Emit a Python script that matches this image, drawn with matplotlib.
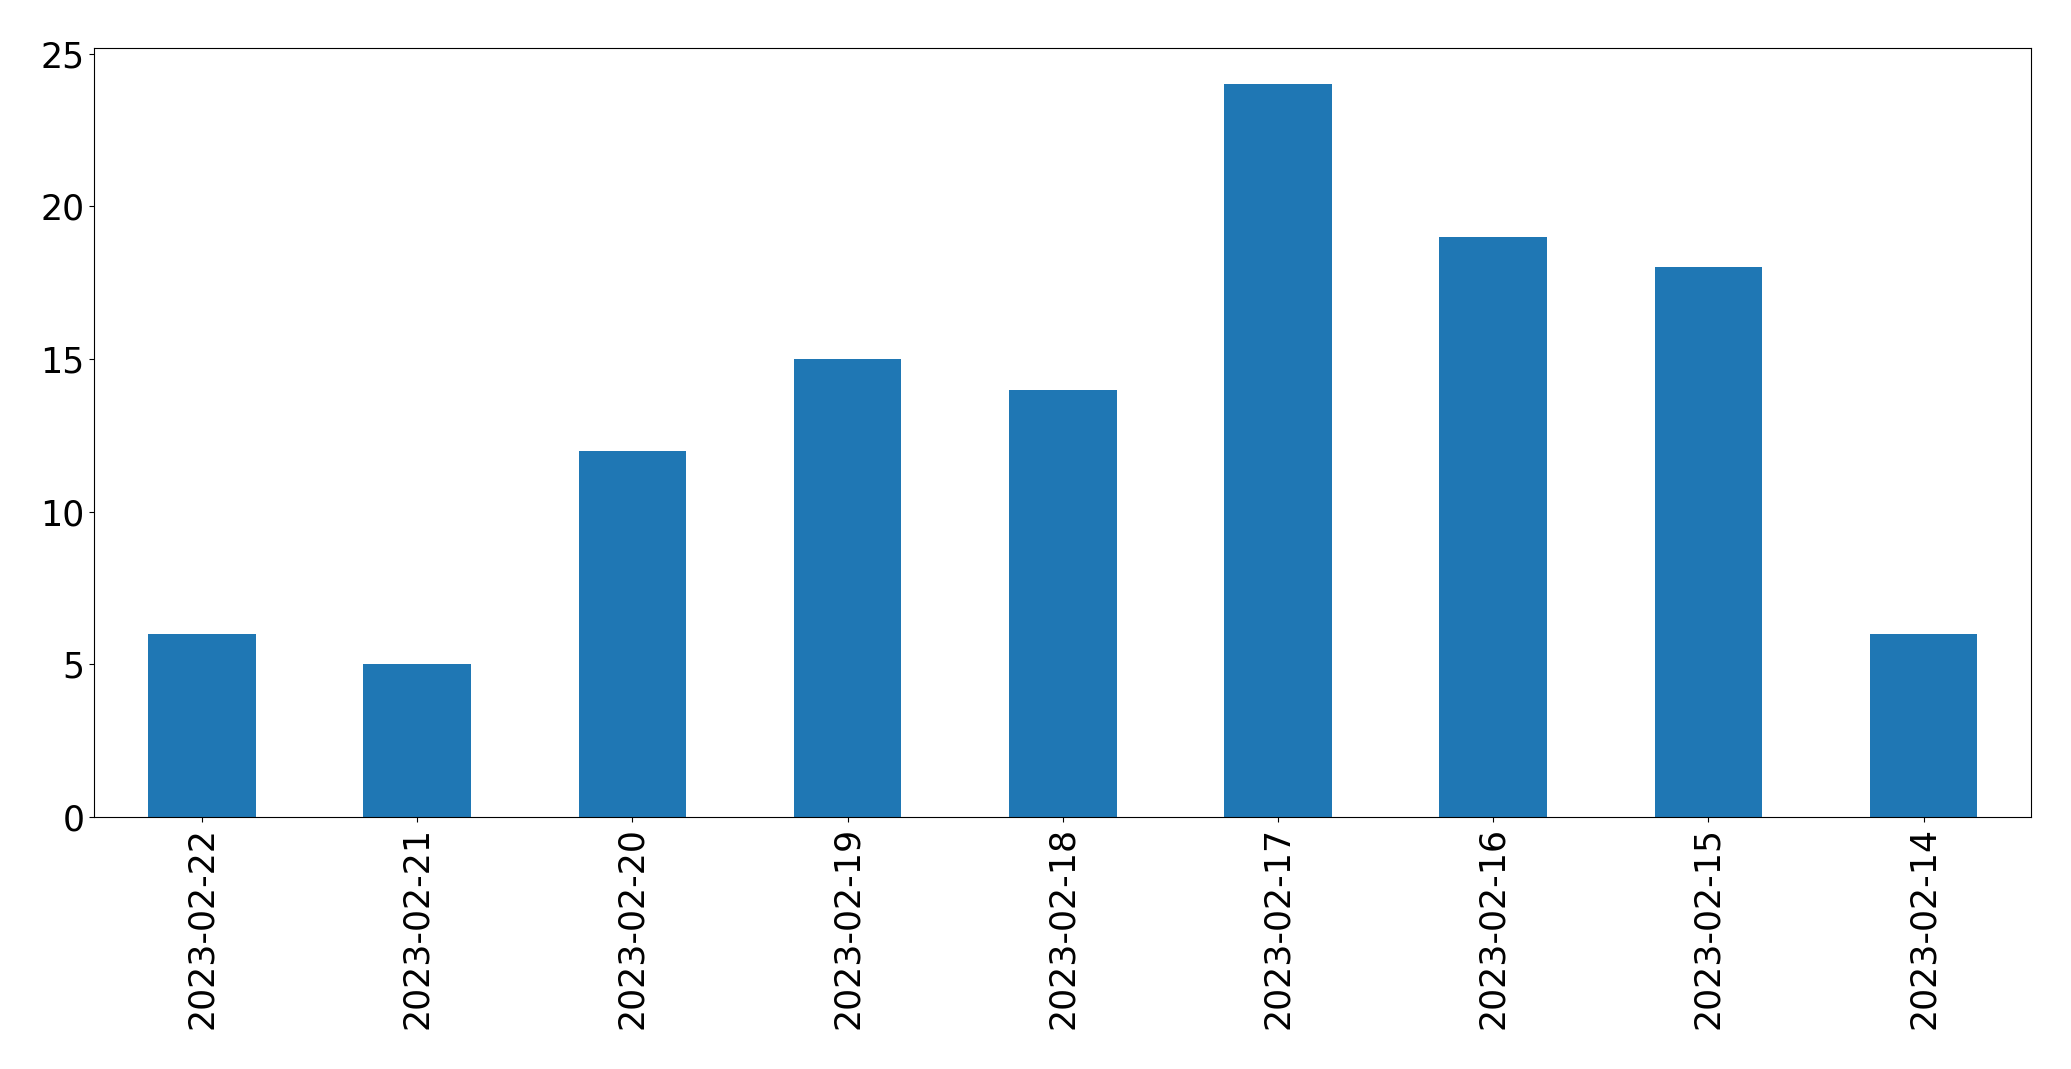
import matplotlib
matplotlib.use("Agg")
import matplotlib.pyplot as plt

dates = ["2023-02-22", "2023-02-21", "2023-02-20", "2023-02-19", "2023-02-18",
         "2023-02-17", "2023-02-16", "2023-02-15", "2023-02-14"]
counts = [6, 5, 12, 15, 14, 24, 19, 18, 6]

fig = plt.figure(figsize=(20.71, 10.69), dpi=100)
ax = fig.add_axes([0.04553, 0.2357, 0.9353, 0.7197])
x = range(len(dates))
ax.bar(x, counts, width=0.5, color="#1f77b4")
ax.set_xlim(-0.5, len(dates) - 0.5)
ax.set_ylim(0, max(counts) * 1.05)
ax.set_xticks(list(x))
ax.set_xticklabels(dates, rotation=90)
ax.tick_params(labelsize=25)
fig.savefig("out.png", dpi=100)
